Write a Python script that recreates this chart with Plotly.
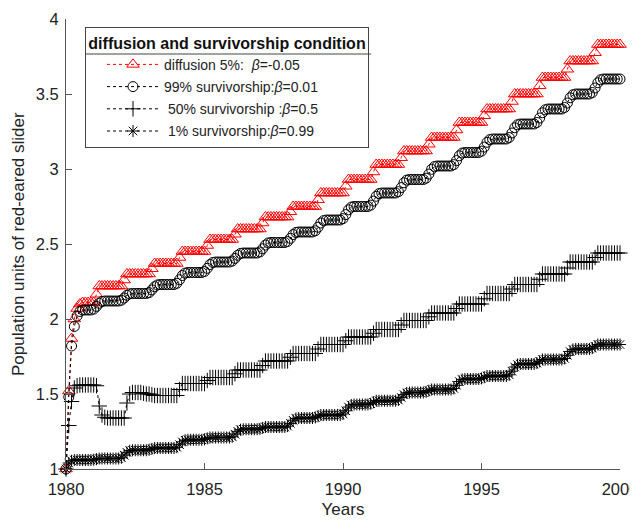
import plotly.graph_objects as go

# time axis: 1980.0 .. 2000.0 in steps of 0.1 year
years = [round(1980 + 0.1 * i, 1) for i in range(201)]

diffusion_rows = [
    [1.00, 1.52, 1.87, 2.00, 2.07, 2.10, 2.11, 2.11, 2.11, 2.11],
    [2.11, 2.165, 2.22, 2.22, 2.22, 2.22, 2.22, 2.22, 2.22, 2.22],
    [2.22, 2.26, 2.30, 2.30, 2.30, 2.30, 2.30, 2.30, 2.30, 2.30],
    [2.30, 2.335, 2.37, 2.37, 2.37, 2.37, 2.37, 2.37, 2.37, 2.37],
    [2.37, 2.41, 2.45, 2.45, 2.45, 2.45, 2.45, 2.45, 2.45, 2.45],
    [2.45, 2.49, 2.53, 2.53, 2.53, 2.53, 2.53, 2.53, 2.53, 2.53],
    [2.53, 2.565, 2.60, 2.60, 2.60, 2.60, 2.60, 2.60, 2.60, 2.60],
    [2.60, 2.64, 2.68, 2.68, 2.68, 2.68, 2.68, 2.68, 2.68, 2.68],
    [2.68, 2.715, 2.75, 2.75, 2.75, 2.75, 2.75, 2.75, 2.75, 2.75],
    [2.75, 2.795, 2.84, 2.84, 2.84, 2.84, 2.84, 2.84, 2.84, 2.84],
    [2.84, 2.885, 2.93, 2.93, 2.93, 2.93, 2.93, 2.93, 2.93, 2.93],
    [2.93, 2.98, 3.03, 3.03, 3.03, 3.03, 3.03, 3.03, 3.03, 3.03],
    [3.03, 3.075, 3.12, 3.12, 3.12, 3.12, 3.12, 3.12, 3.12, 3.12],
    [3.12, 3.165, 3.21, 3.21, 3.21, 3.21, 3.21, 3.21, 3.21, 3.21],
    [3.21, 3.26, 3.31, 3.31, 3.31, 3.31, 3.31, 3.31, 3.31, 3.31],
    [3.31, 3.355, 3.40, 3.40, 3.40, 3.40, 3.40, 3.40, 3.40, 3.40],
    [3.40, 3.45, 3.50, 3.50, 3.50, 3.50, 3.50, 3.50, 3.50, 3.50],
    [3.50, 3.555, 3.61, 3.61, 3.61, 3.61, 3.61, 3.61, 3.61, 3.61],
    [3.61, 3.665, 3.72, 3.72, 3.72, 3.72, 3.72, 3.72, 3.72, 3.72],
    [3.72, 3.775, 3.83, 3.83, 3.83, 3.83, 3.83, 3.83, 3.83, 3.83],
    [3.83],
]

surv99_rows = [
    [1.00, 1.48, 1.82, 1.95, 2.02, 2.05, 2.06, 2.06, 2.06, 2.06],
    [2.066, 2.084, 2.105, 2.117, 2.12, 2.12, 2.12, 2.12, 2.12, 2.12],
    [2.125, 2.14, 2.158, 2.168, 2.17, 2.17, 2.17, 2.17, 2.17, 2.17],
    [2.176, 2.194, 2.215, 2.227, 2.23, 2.23, 2.23, 2.23, 2.23, 2.23],
    [2.238, 2.262, 2.29, 2.306, 2.31, 2.31, 2.31, 2.31, 2.31, 2.31],
    [2.317, 2.338, 2.363, 2.377, 2.38, 2.38, 2.38, 2.38, 2.38, 2.38],
    [2.386, 2.404, 2.425, 2.437, 2.44, 2.44, 2.44, 2.44, 2.44, 2.44],
    [2.447, 2.468, 2.493, 2.507, 2.51, 2.51, 2.51, 2.51, 2.51, 2.51],
    [2.517, 2.538, 2.563, 2.577, 2.58, 2.58, 2.58, 2.58, 2.58, 2.58],
    [2.588, 2.612, 2.64, 2.656, 2.66, 2.66, 2.66, 2.66, 2.66, 2.66],
    [2.669, 2.696, 2.728, 2.746, 2.75, 2.75, 2.75, 2.75, 2.75, 2.75],
    [2.759, 2.786, 2.818, 2.836, 2.84, 2.84, 2.84, 2.84, 2.84, 2.84],
    [2.849, 2.876, 2.908, 2.926, 2.93, 2.93, 2.93, 2.93, 2.93, 2.93],
    [2.939, 2.966, 2.998, 3.016, 3.02, 3.02, 3.02, 3.02, 3.02, 3.02],
    [3.029, 3.056, 3.088, 3.106, 3.11, 3.11, 3.11, 3.11, 3.11, 3.11],
    [3.119, 3.146, 3.178, 3.196, 3.20, 3.20, 3.20, 3.20, 3.20, 3.20],
    [3.21, 3.24, 3.275, 3.295, 3.30, 3.30, 3.30, 3.30, 3.30, 3.30],
    [3.31, 3.34, 3.375, 3.395, 3.40, 3.40, 3.40, 3.40, 3.40, 3.40],
    [3.41, 3.44, 3.475, 3.495, 3.50, 3.50, 3.50, 3.50, 3.50, 3.50],
    [3.51, 3.54, 3.575, 3.595, 3.60, 3.60, 3.60, 3.60, 3.60, 3.60],
    [3.60],
]

surv50_rows = [
    [1.00, 1.29, 1.45, 1.54, 1.555, 1.56, 1.56, 1.56, 1.56, 1.56],
    [1.56, 1.555, 1.42, 1.36, 1.345, 1.34, 1.34, 1.34, 1.34, 1.34],
    [1.34, 1.34, 1.44, 1.50, 1.51, 1.51, 1.51, 1.51, 1.505, 1.50],
    [1.50, 1.495, 1.49, 1.49, 1.49, 1.49, 1.49, 1.49, 1.49, 1.49],
    [1.49, 1.53, 1.57, 1.57, 1.57, 1.57, 1.57, 1.57, 1.57, 1.57],
    [1.57, 1.59, 1.61, 1.61, 1.61, 1.61, 1.61, 1.61, 1.61, 1.61],
    [1.61, 1.635, 1.66, 1.66, 1.66, 1.66, 1.66, 1.66, 1.66, 1.66],
    [1.66, 1.69, 1.72, 1.72, 1.72, 1.72, 1.72, 1.72, 1.72, 1.72],
    [1.72, 1.745, 1.77, 1.77, 1.77, 1.77, 1.77, 1.77, 1.77, 1.77],
    [1.77, 1.80, 1.83, 1.83, 1.83, 1.83, 1.83, 1.83, 1.83, 1.83],
    [1.83, 1.855, 1.88, 1.88, 1.88, 1.88, 1.88, 1.88, 1.88, 1.88],
    [1.88, 1.905, 1.93, 1.93, 1.93, 1.93, 1.93, 1.93, 1.93, 1.93],
    [1.93, 1.96, 1.99, 1.99, 1.99, 1.99, 1.99, 1.99, 1.99, 1.99],
    [1.99, 2.015, 2.04, 2.04, 2.04, 2.04, 2.04, 2.04, 2.04, 2.04],
    [2.04, 2.07, 2.10, 2.10, 2.10, 2.10, 2.10, 2.10, 2.10, 2.10],
    [2.10, 2.135, 2.17, 2.17, 2.17, 2.17, 2.17, 2.17, 2.17, 2.17],
    [2.17, 2.20, 2.23, 2.23, 2.23, 2.23, 2.23, 2.23, 2.23, 2.23],
    [2.23, 2.265, 2.30, 2.30, 2.30, 2.30, 2.30, 2.30, 2.30, 2.30],
    [2.30, 2.34, 2.38, 2.38, 2.38, 2.38, 2.38, 2.38, 2.38, 2.38],
    [2.38, 2.41, 2.44, 2.44, 2.44, 2.44, 2.44, 2.44, 2.44, 2.44],
    [2.44],
]

surv1_rows = [
    [1.00, 1.04, 1.055, 1.06, 1.06, 1.06, 1.06, 1.06, 1.06, 1.06],
    [1.062, 1.066, 1.07, 1.07, 1.07, 1.07, 1.07, 1.07, 1.07, 1.07],
    [1.075, 1.092, 1.111, 1.122, 1.125, 1.125, 1.125, 1.125, 1.125, 1.125],
    [1.128, 1.134, 1.14, 1.14, 1.14, 1.14, 1.14, 1.14, 1.14, 1.14],
    [1.145, 1.162, 1.181, 1.192, 1.195, 1.195, 1.195, 1.195, 1.195, 1.195],
    [1.198, 1.204, 1.21, 1.21, 1.21, 1.21, 1.21, 1.21, 1.21, 1.21],
    [1.215, 1.232, 1.251, 1.262, 1.265, 1.265, 1.265, 1.265, 1.265, 1.265],
    [1.268, 1.274, 1.28, 1.28, 1.28, 1.28, 1.28, 1.28, 1.28, 1.28],
    [1.286, 1.304, 1.325, 1.337, 1.34, 1.34, 1.34, 1.34, 1.34, 1.34],
    [1.344, 1.352, 1.36, 1.36, 1.36, 1.36, 1.36, 1.36, 1.36, 1.36],
    [1.367, 1.388, 1.413, 1.427, 1.43, 1.43, 1.43, 1.43, 1.43, 1.43],
    [1.435, 1.445, 1.455, 1.455, 1.455, 1.455, 1.455, 1.455, 1.455, 1.455],
    [1.46, 1.477, 1.496, 1.507, 1.51, 1.51, 1.51, 1.51, 1.51, 1.51],
    [1.514, 1.522, 1.53, 1.53, 1.53, 1.53, 1.53, 1.53, 1.53, 1.53],
    [1.537, 1.558, 1.583, 1.597, 1.60, 1.60, 1.60, 1.60, 1.60, 1.60],
    [1.604, 1.612, 1.62, 1.62, 1.62, 1.62, 1.62, 1.62, 1.62, 1.62],
    [1.628, 1.652, 1.68, 1.696, 1.70, 1.70, 1.70, 1.70, 1.70, 1.70],
    [1.706, 1.718, 1.73, 1.73, 1.73, 1.73, 1.73, 1.73, 1.73, 1.73],
    [1.737, 1.758, 1.783, 1.797, 1.80, 1.80, 1.80, 1.80, 1.80, 1.80],
    [1.806, 1.818, 1.83, 1.83, 1.83, 1.83, 1.83, 1.83, 1.83, 1.83],
    [1.83],
]

def flat(rows):
    return [v for r in rows for v in r]

series_names = [
    "diffusion 5%:  <i>β</i>=-0.05",
    "99% survivorship:<i>β</i>=0.01",
    " 50% survivorship :<i>β</i>=0.5",
    " 1% survivorship:<i>β</i>=0.99",
]
series_values = [flat(diffusion_rows), flat(surv99_rows), flat(surv50_rows), flat(surv1_rows)]
series_colors = ["#ff0000", "#000000", "#000000", "#000000"]
series_symbols = ["triangle-up-open", "circle-open", "cross-thin-open", "asterisk-open"]
series_sizes = [11, 10, 11, 10]

x_ticks = [1980, 1985, 1990, 1995, 2000]
y_ticks = [1, 1.5, 2, 2.5, 3, 3.5, 4]
y_tick_text = ["1", "1.5", "2", "2.5", "3", "3.5", "4"]

FONT = "Liberation Sans, Arial, sans-serif"

fig = go.Figure()
for i, (name, vals, col, sym, sz) in enumerate(zip(series_names, series_values, series_colors, series_symbols, series_sizes)):
    fig.add_trace(go.Scatter(
        x=years, y=vals, name=name, mode="lines+markers",
        legendgroup=f"g{i}",
        line=dict(color=col, width=1, dash="dot"),
        marker=dict(symbol=sym, size=sz, color=col, line=dict(color=col, width=1)),
        cliponaxis=False,
    ))

axis_common = dict(
    showline=True, linecolor="#555", linewidth=1, mirror=False,
    ticks="inside", ticklen=6, tickcolor="#555", tickwidth=1,
    showgrid=False, zeroline=False, automargin=False,
    tickfont=dict(family=FONT, size=16.5, color="#222"),
)

# plot area in pixels
L, R, T, B = 58, 26, 11, 63
PW, PH = 638 - L - R, 524 - T - B
leg_left_px, leg_top_px, leg_right_px, sep_px = 77, 19, 363, 46

fig.update_layout(
    width=638, height=524,
    margin=dict(l=L, r=R, t=T, b=B),
    paper_bgcolor="white", plot_bgcolor="white",
    font=dict(family=FONT, color="#222"),
    xaxis=dict(range=[1980, 2000], tickvals=x_ticks, ticklabelstandoff=5,
               title=dict(text="Years", font=dict(family=FONT, size=17, color="#222"), standoff=6),
               **axis_common),
    yaxis=dict(range=[1, 4], tickvals=y_ticks, ticktext=y_tick_text, ticklabelstandoff=3,
               **axis_common),
    annotations=[dict(
        text="Population units of red-eared slider", textangle=-90,
        xref="paper", yref="paper", x=(10 - L) / PW, y=0.5,
        xanchor="center", yanchor="middle", showarrow=False,
        font=dict(family=FONT, size=17, color="#222"),
    )],
    legend=dict(
        x=(leg_left_px - L) / PW, y=1 - (leg_top_px - T) / PH, xanchor="left", yanchor="top",
        bgcolor="rgba(0,0,0,0)", bordercolor="#444", borderwidth=1,
        font=dict(family=FONT, size=14, color="#222"),
        title=dict(text="<b>diffusion and survivorship condition</b>", side="top center",
                   font=dict(family=FONT, size=16, color="#111")),
        itemwidth=52, indentation=16, tracegroupgap=1,
    ),
    shapes=[dict(
        type="line", xref="paper", yref="paper", layer="above",
        x0=(leg_left_px - L) / PW, x1=(leg_right_px - L) / PW,
        y0=1 - (sep_px - T) / PH, y1=1 - (sep_px - T) / PH,
        line=dict(color="#444", width=1),
    )],
    showlegend=True,
)

fig.write_html("out.html")
